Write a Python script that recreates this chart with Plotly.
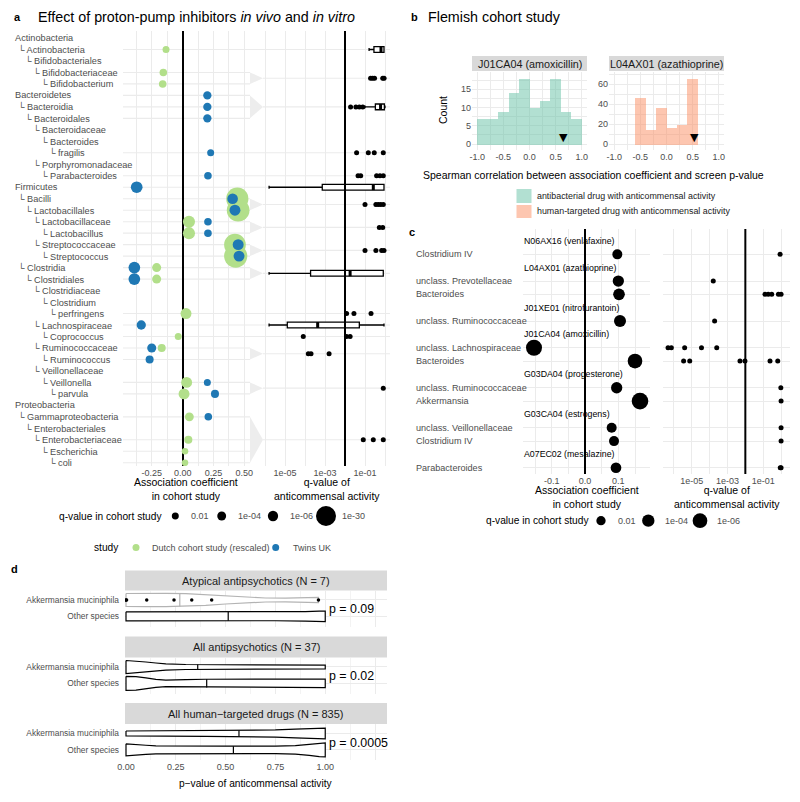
import numpy as np
import plotly.graph_objects as go

W, H = 800, 802
FONT = "Liberation Sans, Arial, Helvetica, sans-serif"
GRID = "#ebebeb"
TICK = "#4d4d4d"
GREEN = "#b2df8a"
BLUE = "#1f78b4"
TEAL = "#66c2a5"
SALMON = "#fc8d62"

# ---------------- panel a data ----------------
tax_names = ["Actinobacteria", "Actinobacteria", "Bifidobacteriales", "Bifidobacteriaceae", "Bifidobacterium",
             "Bacteroidetes", "Bacteroidia", "Bacteroidales", "Bacteroidaceae", "Bacteroides", "fragilis",
             "Porphyromonadaceae", "Parabacteroides",
             "Firmicutes", "Bacilli", "Lactobacillales", "Lactobacillaceae", "Lactobacillus", "Streptococcaceae",
             "Streptococcus", "Clostridia", "Clostridiales", "Clostridiaceae", "Clostridium", "perfringens",
             "Lachnospiraceae", "Coprococcus", "Ruminococcaceae", "Ruminococcus", "Veillonellaceae", "Veillonella",
             "parvula",
             "Proteobacteria", "Gammaproteobacteria", "Enterobacteriales", "Enterobacteriaceae", "Escherichia", "coli"]
tax_levels = [0, 1, 2, 3, 4,
              0, 1, 2, 3, 4, 5, 3, 4,
              0, 1, 2, 3, 4, 3, 4, 1, 2, 3, 4, 5, 3, 4, 3, 4, 3, 4, 5,
              0, 1, 2, 3, 4, 5]

dutch_rows = [2, 4, 5, 15, 16, 17, 18, 19, 20, 21, 22, 25, 27, 28, 31, 32, 34, 36, 37, 38]
dutch_coef = [-0.135, -0.157, -0.162, 0.443, 0.45, 0.051, 0.051, 0.424, 0.43, -0.211, -0.211, 0.027, -0.036,
              -0.17, 0.032, 0.011, 0.054, 0.046, 0.019, 0.019]
dutch_q = [1e-2, 3e-3, 3e-3, 1e-38, 1e-40, 1e-9, 1e-9, 1e-36, 1e-42, 6e-5, 6e-5, 1e-7, 1e-2, 1e-3, 1e-7, 1e-7,
           1e-4, 1e-3, 2.5e-2, 2.5e-2]

twins_rows = [6, 7, 8, 11, 13, 14, 15, 16, 17, 18, 19, 20, 21, 22, 26, 28, 29, 31, 32, 34]
twins_coef = [0.2, 0.2, 0.2, 0.227, 0.205, -0.373, 0.405, 0.424, 0.205, 0.205, 0.45, 0.457, -0.392, -0.392,
              -0.336, -0.251, -0.268, 0.2, 0.262, 0.208]
twins_q = [5e-4, 5e-4, 5e-4, 1e-2, 3e-3, 5e-9, 3e-7, 1e-7, 3e-3, 3e-3, 1e-7, 1e-7, 5e-9, 5e-9, 3e-5, 6e-5,
           1e-3, 1e-2, 1e-3, 3e-3]

screen_groups = [[2], [4, 5], [6, 7, 8], [11], [13], [14], [15, 16], [17, 18], [19, 20], [21, 22], [25], [26],
                 [27], [28, 29], [31, 32], [34, 35, 36, 37, 38]]
dot_group = ([1] * 5 + [2] * 4 + [3] * 4 + [4] * 5 + [6] * 5 + [7] * 2 + [8] * 4 + [10] * 3 + [12] * 3
             + [13] * 3 + [14] * 1 + [15] * 3)
dot_q = [0.19, 0.24, 0.3, 0.77, 0.9,
         0.019, 0.035, 0.052, 0.077,
         0.038, 0.146, 0.29, 0.82,
         0.045, 0.061, 0.38, 0.56, 0.82,
         0.1, 0.35, 0.46, 0.61, 0.82,
         0.52, 0.77,
         0.1, 0.35, 0.68, 0.89,
         0.012, 0.028, 0.2,
         8.2e-5, 0.012, 0.018,
         1.46e-4, 2e-4, 1.6e-3,
         0.82,
         0.082, 0.26, 0.82]
box_group = [0, 2, 5, 9, 11]
box_low = [0.16, 0.1, 1.6e-6, 1.6e-6, 1.6e-6]
box_q1 = [0.28, 0.33, 7.3e-4, 1.9e-4, 1.3e-5]
box_med = [0.63, 0.6, 0.26, 0.018, 4.3e-4]
box_q3 = [0.89, 0.93, 0.89, 0.82, 0.052]
box_high = [0.89, 1.0, 0.89, 0.82, 0.89]

# ---------------- panel b data ----------------
amox_bin_left = [-1.0, -0.8, -0.6, -0.4, -0.2, 0.0, 0.2, 0.4, 0.6, 0.8]
amox_counts = [7, 7, 9, 14, 18, 10, 12, 18, 9, 7]
aza_bin_left = [-0.6, -0.4, -0.2, 0.0, 0.2, 0.4]
aza_counts = [47, 15, 37, 17, 20, 66]
bin_width = 0.2
observed_rho = [0.65, 0.53]

# ---------------- panel c data ----------------
c_labels = ["N06AX16 (venlafaxine)", "Clostridium IV", "L04AX01 (azathioprine)", "unclass. Prevotellaceae",
            "Bacteroides", "J01XE01 (nitrofurantoin)", "unclass. Ruminococcaceae", "J01CA04 (amoxicillin)",
            "unclass. Lachnospiraceae", "Bacteroides", "G03DA04 (progesterone)", "unclass. Ruminococcaceae",
            "Akkermansia", "G03CA04 (estrogens)", "unclass. Veillonellaceae", "Clostridium IV",
            "A07EC02 (mesalazine)", "Parabacteroides"]
c_is_header = [1, 0, 1, 0, 0, 1, 0, 1, 0, 0, 1, 0, 0, 1, 0, 0, 1, 0]
c_coef = [0.097, 0.1, 0.102, 0.105, -0.153, 0.15, 0.095, 0.165, 0.08, 0.087, 0.093]
c_cohort_q = [4e-3, 6e-4, 3e-4, 1.8e-4, 5e-8, 1e-6, 6e-4, 1e-8, 4e-3, 4e-3, 1.5e-3]
c_screen = [[0.88], [1.6e-4], [0.126, 0.19, 0.3, 0.71, 1.0], [1.9e-4],
            [4.7e-7, 7.2e-7, 4e-6, 3.5e-5, 2.5e-4], [3.5e-6, 7.7e-6, 5e-3, 9.5e-3, 0.24, 0.65],
            [0.97], [1.0], [1.0], [1.0], [0.9, 1.0]]

# ---------------- panel d data ----------------
d_facets = ["Atypical antipsychotics (N = 7)", "All antipsychotics (N = 37)", "All human\u2212targeted drugs (N = 835)"]
d_pvals = ["p = 0.09", "p = 0.02", "p = 0.0005"]
d_species = ["Akkermansia muciniphila", "Other species"]
# violin outlines: p grid and half-width (px)
viol_p = [
    [[0.0, 0.1, 0.2, 0.3, 0.4, 0.5, 0.6, 0.7, 0.8, 0.9, 0.966],
     [0.0, 0.25, 0.5, 0.75, 0.9, 0.97, 1.0]],
    [[0.0, 0.05, 0.1, 0.15, 0.2, 0.3, 0.5, 0.7, 1.0],
     [0.0, 0.05, 0.1, 0.15, 0.2, 0.25, 0.3, 0.4, 0.6, 0.8, 1.0]],
    [[0.0, 0.2, 0.4, 0.6, 0.75, 0.85, 0.92, 1.0],
     [0.0, 0.05, 0.1, 0.15, 0.25, 0.5, 0.75, 0.85, 0.92, 0.97, 1.0]],
]
viol_w = [
    [[6.5, 6.7, 6.7, 6.3, 5.3, 4.0, 2.8, 2.0, 1.8, 2.0, 2.6],
     [4.5, 4.4, 4.3, 4.4, 4.7, 5.3, 5.3]],
    [[6.5, 6.0, 5.0, 4.0, 3.2, 2.5, 2.1, 1.9, 1.8],
     [7.0, 6.8, 5.5, 4.0, 3.3, 3.3, 3.7, 4.1, 4.2, 4.2, 4.3]],
    [[2.5, 2.6, 2.8, 3.1, 3.6, 4.3, 5.0, 5.3],
     [6.0, 5.6, 4.6, 4.0, 3.8, 3.7, 3.8, 4.3, 5.5, 6.8, 7.0]],
]
viol_med = [[0.27, 0.513], [0.36, 0.405], [0.567, 0.539]]
atyp_akk_p = [0.0, 0.003, 0.104, 0.241, 0.33, 0.43, 0.966]

# ---------------- helpers ----------------
def fx(x):
    return x / W

def fy(y):
    return 1 - y / H

def xdom(a, b):
    return [a / W, b / W]

def ydom(top, bot):
    return [1 - bot / H, 1 - top / H]

def size_a(q):
    return 2.47 + 3.2 * np.sqrt(-np.log10(np.asarray(q, dtype=float)))

def size_c(q):
    return 1.94 + 5.2 * np.sqrt(-np.log10(np.asarray(q, dtype=float)))

annotations = []
shapes = []

def ann(x, y, text, size=9.2, color=TICK, xanchor="left", yanchor="middle", xref="paper", yref="paper", **kw):
    annotations.append(dict(x=x, y=y, text=text, xref=xref, yref=yref, xanchor=xanchor, yanchor=yanchor,
                            showarrow=False, borderpad=0, font=dict(size=size, color=color, family=FONT), **kw))

def circle(cx, cy, d, color):
    shapes.append(dict(type="circle", xref="paper", yref="paper", x0=fx(cx - d / 2), x1=fx(cx + d / 2),
                       y0=fy(cy + d / 2), y1=fy(cy - d / 2), fillcolor=color, line=dict(width=0)))

fig = go.Figure()
tickfont = dict(size=9, color=TICK, family=FONT)

# ================= PANEL A =================
A_LX0, A_LX1, A_RX0, A_RX1 = 123, 250, 263, 390
A_TOP, A_BOT = 31, 466
row0_px, row_step = 38.0, 11.48
a_yrange = [38 + (A_BOT - (row0_px + 37 * row_step)) / row_step, 1 - (row0_px - A_TOP) / row_step]

left_rows = set(dutch_rows) | set(twins_rows)
for g in screen_groups:
    if len(g) == 1:
        shapes.append(dict(type="line", xref="paper", yref="y", x0=fx(A_LX0), x1=fx(A_RX1), y0=g[0], y1=g[0],
                           line=dict(color=GRID, width=1.1), layer="below"))
    else:
        for r in g:
            if r in left_rows:
                shapes.append(dict(type="line", xref="paper", yref="y", x0=fx(A_LX0), x1=fx(A_LX1), y0=r, y1=r,
                                   line=dict(color=GRID, width=1.1), layer="below"))
        mid = (g[0] + g[-1]) / 2
        shapes.append(dict(type="path", xref="paper", yref="y",
                           path=f"M {fx(A_LX1)},{g[0]} L {fx(A_LX1)},{g[-1]} L {fx(A_RX0)},{mid} Z",
                           fillcolor="#ededed", line=dict(width=0), layer="below"))
        shapes.append(dict(type="line", xref="paper", yref="y", x0=fx(A_RX0), x1=fx(A_RX1), y0=mid, y1=mid,
                           line=dict(color=GRID, width=1.1), layer="below"))

fig.add_trace(go.Scatter(x=dutch_coef, y=dutch_rows, mode="markers", xaxis="x", yaxis="y",
                         marker=dict(size=size_a(dutch_q), color=GREEN, opacity=1, line=dict(width=0)),
                         showlegend=False))
fig.add_trace(go.Scatter(x=twins_coef, y=twins_rows, mode="markers", xaxis="x", yaxis="y",
                         marker=dict(size=size_a(twins_q), color=BLUE, opacity=1, line=dict(width=0)),
                         showlegend=False))

group_mid = [(g[0] + g[-1]) / 2 for g in screen_groups]
for i, gi in enumerate(box_group):
    fig.add_trace(go.Box(y=[group_mid[gi]], q1=[box_q1[i]], median=[box_med[i]], q3=[box_q3[i]],
                         lowerfence=[box_low[i]], upperfence=[box_high[i]], orientation="h",
                         xaxis="x2", yaxis="y2", width=0.5, fillcolor="white",
                         line=dict(color="black", width=1.3), showlegend=False, hoverinfo="skip"))
    fig.add_trace(go.Scatter(x=[box_med[i], box_med[i]], y=[group_mid[gi] - 0.25, group_mid[gi] + 0.25],
                             mode="lines", line=dict(color="black", width=3), xaxis="x2", yaxis="y2",
                             showlegend=False))
fig.add_trace(go.Scatter(x=dot_q, y=[group_mid[g] for g in dot_group], mode="markers", xaxis="x2", yaxis="y2",
                         marker=dict(size=5, color="black", opacity=1), showlegend=False))

shapes.append(dict(type="line", xref="x2", yref="y2 domain", x0=0.01, x1=0.01, y0=0, y1=1,
                   line=dict(color="black", width=2)))

for name, lev, r in zip(tax_names, tax_levels, range(1, 39)):
    if lev == 0:
        ann(fx(14), r, name, yref="y")
    else:
        ann(fx(16.5 + 7.9 * (lev - 1)), r, "\u2514 " + name, yref="y")

ann(fx(13), fy(17), "<b>a</b>", size=11, color="black")
ann(fx(37), fy(17), "Effect of proton-pump inhibitors <i>in vivo</i> and <i>in vitro</i>", size=14.3,
    color="black")
ann(fx(186), fy(489), "Association coefficient<br>in cohort study", size=10.5, color="black", xanchor="center")
ann(fx(326.5), fy(489), "q-value of<br>anticommensal activity", size=10.5, color="black", xanchor="center")

# legend a (sizes)
ann(fx(163), fy(516), "q-value in cohort study", size=10.2, color="black", xanchor="right")
for cx, lab_x, qv, lab in zip([175.3, 221.7, 273, 326], [190, 237, 289, 341], [1e-2, 1e-4, 1e-6, 1e-30],
                              ["0.01", "1e-04", "1e-06", "1e-30"]):
    circle(cx, 516, float(size_a(qv)), "black")
    ann(fx(lab_x), fy(516), lab, size=9)
ann(fx(120), fy(547.5), "study", size=10.2, color="black", xanchor="right")
circle(136, 547.5, 7, GREEN)
ann(fx(150.5), fy(547.5), "Dutch cohort study (rescaled)", size=9)
circle(275.7, 547.5, 7, BLUE)
ann(fx(291.5), fy(547.5), "Twins UK", size=9)

# ================= PANEL B =================
ann(fx(410), fy(17), "<b>b</b>", size=11, color="black")
ann(fx(427), fy(17), "Flemish cohort study", size=14.3, color="black")

B1 = (472, 587)
B2 = (609, 724)
B_TOP, B_BOT = 71.5, 150
fig.add_trace(go.Bar(x=[b + bin_width / 2 for b in amox_bin_left], y=amox_counts, width=bin_width,
                     marker=dict(color=TEAL, opacity=0.5, line=dict(width=0)), xaxis="x3", yaxis="y3",
                     showlegend=False))
fig.add_trace(go.Bar(x=[b + bin_width / 2 for b in aza_bin_left], y=aza_counts, width=bin_width,
                     marker=dict(color=SALMON, opacity=0.5, line=dict(width=0)), xaxis="x4", yaxis="y4",
                     showlegend=False))
for k, (xa, ya) in enumerate([("x3", "y3"), ("x4", "y4")]):
    annotations.append(dict(x=observed_rho[k], y=0, xref=xa, yref=ya, text="\u25bc", showarrow=False,
                            xanchor="center", yanchor="bottom", yshift=-1, borderpad=0,
                            font=dict(size=11, color="black", family="DejaVu Sans")))
for (x0, x1), lab in zip([B1, B2], ["J01CA04 (amoxicillin)", "L04AX01 (azathioprine)"]):
    shapes.append(dict(type="rect", xref="paper", yref="paper", x0=fx(x0), x1=fx(x1), y0=fy(71), y1=fy(56),
                       fillcolor="#d9d9d9", line=dict(width=0)))
    ann(fx((x0 + x1) / 2), fy(63.5), lab, size=10.8, color="#1a1a1a", xanchor="center")
ann(fx(443), fy(110), "Count", size=10.5, color="black", xanchor="center", textangle=-90)
ann(fx(593), fy(175), "Spearman correlation between association coefficient and screen p-value", size=10.5,
    color="black", xanchor="center")
for (yt, yb), col, lab in zip([(189, 203), (205, 218)], [TEAL, SALMON],
                              ["antibacterial drug with anticommensal activity",
                               "human-targeted drug with anticommensal activity"]):
    shapes.append(dict(type="rect", xref="paper", yref="paper", x0=fx(516.5), x1=fx(531.5), y0=fy(yb),
                       y1=fy(yt), fillcolor=col, opacity=0.5, line=dict(width=0)))
    ann(fx(536), fy((yt + yb) / 2), lab, size=8.9, color="#1a1a1a")

# ================= PANEL C =================
ann(fx(408), fy(232), "<b>c</b>", size=11, color="black")
C_LX = (523, 650)
C_RX = (663, 790)
C_TOP, C_BOT = 229, 474
c_row0, c_step = 241.0, 13.34
c_yrange = [18 + (C_BOT - (c_row0 + 17 * c_step)) / c_step, 1 - (c_row0 - C_TOP) / c_step]
c_taxon_rows = [i + 1 for i, h in enumerate(c_is_header) if not h]

for i, (lab, h) in enumerate(zip(c_labels, c_is_header)):
    if h:
        ann(fx(523), i + 1, lab, size=8.8, color="black", yref="y5")
    else:
        ann(fx(415), i + 1, lab, size=9.1, color=TICK, yref="y5")

fig.add_trace(go.Scatter(x=c_coef, y=c_taxon_rows, mode="markers", xaxis="x5", yaxis="y5",
                         marker=dict(size=size_c(c_cohort_q), color="black", opacity=1, line=dict(width=0)),
                         showlegend=False))
cx_vals, cy_vals = [], []
for r, vals in zip(c_taxon_rows, c_screen):
    cx_vals += vals
    cy_vals += [r] * len(vals)
fig.add_trace(go.Scatter(x=cx_vals, y=cy_vals, mode="markers", xaxis="x6", yaxis="y6",
                         marker=dict(size=5, color="black", opacity=1), showlegend=False))
shapes.append(dict(type="line", xref="x6", yref="y6 domain", x0=0.01, x1=0.01, y0=0, y1=1,
                   line=dict(color="black", width=2)))
ann(fx(586.5), fy(496.5), "Association coefficient<br>in cohort study", size=10.5, color="black",
    xanchor="center")
ann(fx(726.5), fy(496.5), "q-value of<br>anticommensal activity", size=10.5, color="black", xanchor="center")
ann(fx(590), fy(520.7), "q-value in cohort study", size=10.2, color="black", xanchor="right")
for cx, lab_x, qv, lab in zip([601, 648.3, 700], [616.5, 664, 716], [1e-2, 1e-4, 1e-6],
                              ["0.01", "1e-04", "1e-06"]):
    circle(cx, 520.7, float(size_c(qv)), "black")
    ann(fx(lab_x), fy(520.7), lab, size=9)

# ================= PANEL D =================
ann(fx(10), fy(569), "<b>d</b>", size=11, color="black")
D_X = (125, 387)
d_dom = [(590.5, 626.5), (657.5, 693.5), (724, 760)]
d_strip = [(570.5, 590.5), (636.5, 657.5), (703, 724)]
D_SCALE = 36 / 2.2  # px per y unit
for k in range(3):
    xa, ya = f"x{7 + k}", f"y{7 + k}"
    st, sb = d_strip[k]
    shapes.append(dict(type="rect", xref="paper", yref="paper", x0=fx(D_X[0]), x1=fx(D_X[1]), y0=fy(sb),
                       y1=fy(st), fillcolor="#d9d9d9", line=dict(width=0)))
    ann(fx((D_X[0] + D_X[1]) / 2), fy((st + sb) / 2), d_facets[k], size=11, color="#1a1a1a", xanchor="center")
    for j, center in enumerate([1, 0]):
        p = np.array(viol_p[k][j])
        w = np.array(viol_w[k][j]) / D_SCALE
        xs = np.concatenate([p, p[::-1], p[:1]])
        ys = np.concatenate([center + w, center - w[::-1], center + w[:1]])
        col = "#b3b3b3" if (k == 0 and j == 0) else "black"
        fig.add_trace(go.Scatter(x=xs, y=ys, mode="lines", fill="toself", fillcolor="white",
                                 line=dict(color=col, width=1.2), xaxis=xa, yaxis=ya, showlegend=False))
        m = viol_med[k][j]
        hm = np.interp(m, p, w)
        fig.add_trace(go.Scatter(x=[m, m], y=[center - hm, center + hm], mode="lines",
                                 line=dict(color=col, width=1.2), xaxis=xa, yaxis=ya, showlegend=False))
    dt, db = d_dom[k]
    ann(fx(328), fy((dt + db) / 2 + 0.5), d_pvals[k], size=12.4, color="black")
fig.add_trace(go.Scatter(x=atyp_akk_p, y=[1] * len(atyp_akk_p), mode="markers", xaxis="x7", yaxis="y7",
                         marker=dict(size=3.5, color="black", opacity=1), showlegend=False))
ann(fx(256), fy(783.5), "p\u2212value of anticommensal activity", size=10.2, color="black", xanchor="center")

# ================= AXES =================
common = dict(showline=False, ticks="", zeroline=False, tickfont=tickfont, gridcolor=GRID, gridwidth=1.1,
              fixedrange=True, automargin=False, showgrid=True)
layout_axes = {}
layout_axes["xaxis"] = dict(common, domain=xdom(A_LX0, A_LX1), range=[-0.484, 0.546], anchor="y",
                            tickvals=[-0.25, 0, 0.25, 0.5], ticktext=["-0.25", "0.00", "0.25", "0.50"],
                            minor=dict(tickvals=[-0.375, -0.125, 0.125, 0.375], showgrid=True, gridcolor=GRID,
                                       gridwidth=0.6, ticks=""),
                            zeroline=True, zerolinecolor="black", zerolinewidth=2)
layout_axes["yaxis"] = dict(common, domain=ydom(A_TOP, A_BOT), range=a_yrange, anchor="x", showgrid=False,
                            showticklabels=False)
dec = [1e-6, 1e-5, 1e-4, 1e-3, 1e-2, 1e-1, 1]
dec_txt = ["", "1e-05", "", "1e-03", "", "1e-01", ""]
layout_axes["xaxis2"] = dict(common, domain=xdom(A_RX0, A_RX1), type="log", range=[-6.1, 0.25], anchor="y2",
                             tickvals=dec, ticktext=dec_txt)
layout_axes["yaxis2"] = dict(common, domain=ydom(A_TOP, A_BOT), range=a_yrange, anchor="x2", showgrid=False,
                             showticklabels=False)
bx_ticks = dict(tickvals=[-1, -0.5, 0, 0.5, 1], ticktext=["-1.0", "-0.5", "0.0", "0.5", "1.0"],
                minor=dict(tickvals=[-0.75, -0.25, 0.25, 0.75], showgrid=True, gridcolor=GRID, gridwidth=0.6))
layout_axes["xaxis3"] = dict(common, domain=xdom(*B1), range=[-1.1, 1.1], anchor="y3", **bx_ticks)
layout_axes["yaxis3"] = dict(common, domain=ydom(B_TOP, B_BOT), range=[-1.64, 19.86], anchor="x3",
                             tickvals=[0, 5, 10, 15],
                             minor=dict(tickvals=[2.5, 7.5, 12.5, 17.5], showgrid=True, gridcolor=GRID,
                                        gridwidth=0.6))
layout_axes["xaxis4"] = dict(common, domain=xdom(*B2), range=[-1.1, 1.1], anchor="y4", **bx_ticks)
layout_axes["yaxis4"] = dict(common, domain=ydom(B_TOP, B_BOT), range=[-6.03, 72.9], anchor="x4",
                             tickvals=[0, 20, 40, 60],
                             minor=dict(tickvals=[10, 30, 50, 70], showgrid=True, gridcolor=GRID, gridwidth=0.6))
layout_axes["xaxis5"] = dict(common, domain=xdom(*C_LX), range=[-0.186, 0.195], anchor="y5",
                             tickvals=[-0.1, 0, 0.1], ticktext=["-0.1", "0.0", "0.1"],
                             minor=dict(tickvals=[-0.15, -0.05, 0.05, 0.15], showgrid=True, gridcolor=GRID,
                                        gridwidth=0.6),
                             zeroline=True, zerolinecolor="black", zerolinewidth=2)
layout_axes["yaxis5"] = dict(common, domain=ydom(C_TOP, C_BOT), range=c_yrange, anchor="x5",
                             tickvals=c_taxon_rows, showticklabels=False)
layout_axes["xaxis6"] = dict(common, domain=xdom(*C_RX), type="log", range=[-6.61, 0.5], anchor="y6",
                             tickvals=dec, ticktext=dec_txt)
layout_axes["yaxis6"] = dict(common, domain=ydom(C_TOP, C_BOT), range=c_yrange, anchor="x6",
                             tickvals=c_taxon_rows, showticklabels=False)
for k in range(3):
    dt, db = d_dom[k]
    layout_axes[f"xaxis{7 + k}"] = dict(common, domain=xdom(*D_X), range=[-0.005, 1.31], anchor=f"y{7 + k}",
                                        tickvals=[0, 0.25, 0.5, 0.75, 1.0, 1.25],
                                        ticktext=["0.00", "0.25", "0.50", "0.75", "1.00", ""],
                                        showticklabels=(k == 2), gridwidth=0.9,
                                        minor=dict(tickvals=[0.125, 0.375, 0.625, 0.875, 1.125], showgrid=True,
                                                   gridcolor="#f3f3f3", gridwidth=0.5))
    layout_axes[f"yaxis{7 + k}"] = dict(common, domain=ydom(dt, db), range=[-0.62, 1.58], anchor=f"x{7 + k}",
                                        tickvals=[1, 0], ticktext=d_species, gridwidth=0.9,
                                        ticklabelstandoff=5,
                                        tickfont=dict(size=8.4, color=TICK, family=FONT))

fig.update_layout(template="none", width=W, height=H,
                  margin=dict(l=0, r=0, t=0, b=0, pad=0, autoexpand=False), paper_bgcolor="white",
                  plot_bgcolor="rgba(0,0,0,0)", showlegend=False, boxmode="overlay", bargap=0,
                  font=dict(family=FONT), annotations=annotations, shapes=shapes, **layout_axes)
fig.write_html("out.html", config={"displayModeBar": False},
               post_script="document.body.style.margin='0px';")
